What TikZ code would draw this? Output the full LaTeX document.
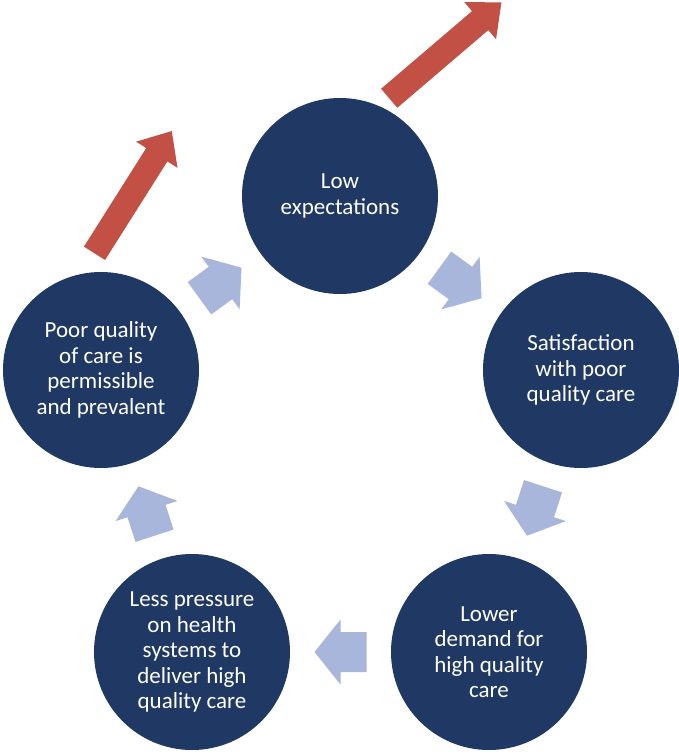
\documentclass[tikz,border=0pt]{standalone}
\usepackage{fontspec}
\setmainfont{Carlito}
\usetikzlibrary{calc}
\definecolor{navy}{RGB}{31,56,100}
\definecolor{redarr}{RGB}{194,80,68}
\definecolor{lightarr}{RGB}{168,182,220}
\tikzset{
  stage/.style={circle, fill=navy, minimum size=196pt, inner sep=0pt, text=white,
    align=center, font=\fontsize{23}{25.5}\selectfont},
  pics/cyc/.style={code={
    \fill[lightarr] (26,0) -- (0,32.5) -- (0,20) -- (-26,20) -- (-26,-20) -- (0,-20) -- (0,-32.5) -- cycle;}},
  pics/redarrow/.style={code={
    \fill[redarr] (0,-12.5) -- ({#1-28},-12.5) -- ({#1-28},-24.5) -- (#1,0) -- ({#1-28},24.5) -- ({#1-28},12.5) -- (0,12.5) -- cycle;}}
}
\begin{document}
\begin{tikzpicture}[x=1pt,y=-1pt]
\useasboundingbox (0,0) rectangle (679,756);
\node[stage] (top) at (340,196) {Low\\expectations};
\node[stage] (right) at (581,370) {Satisfaction\\with poor\\quality care};
\node[stage] (br) at (489,652) {Lower\\demand for\\high quality\\care};
\node[stage] (bl) at (192,652) {Less pressure\\on health\\systems to\\deliver high\\quality care};
\node[stage] (left) at (101,370) {Poor quality\\of care is\\permissible\\and prevalent};
\pic[rotate=-36] at ($(top)!0.5!(right)$) {cyc};
\pic[rotate=-108] at ($(right)!0.5!(br)$) {cyc};
\pic[rotate=180] at ($(br)!0.5!(bl)$) {cyc};
\pic[rotate=108] at ($(bl)!0.5!(left)$) {cyc};
\pic[rotate=36] at ($(left)!0.5!(top)$) {cyc};
\coordinate (r1) at (389.2,98.3);
\coordinate (r2) at (94.5,253.3);
\pic[rotate=40.5] at (r1) {redarrow=147.6};
\pic[rotate=57.7] at (r2) {redarrow=144.6};
\end{tikzpicture}
\end{document}
